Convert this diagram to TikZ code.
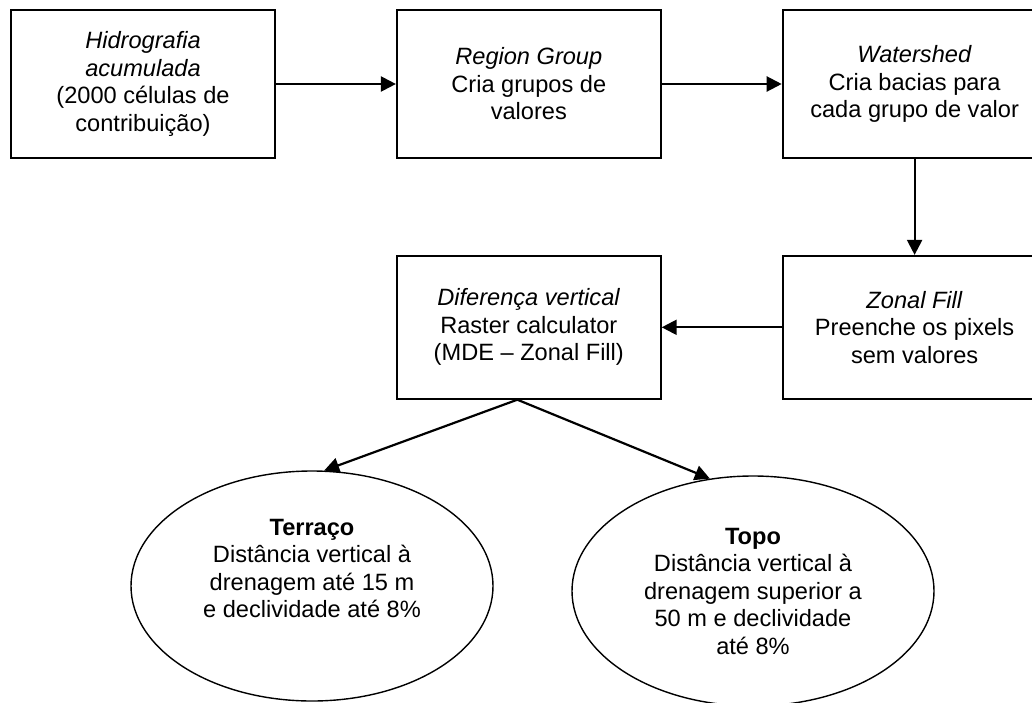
\documentclass[tikz,border=0pt]{standalone}
\usepackage{fontspec}
\setmainfont{Liberation Sans}
\usetikzlibrary{arrows.meta,positioning,shapes.geometric}

\begin{document}
\begin{tikzpicture}[
    x=0.5pt, y=-0.5pt,
    node distance=60pt,
    box/.style={draw, line width=0.9pt, align=center, minimum width=132pt, minimum height=74pt, inner sep=3pt, font=\fontsize{11.8}{13.75}\selectfont},
    blob/.style={draw, ellipse, line width=0.7pt, align=center, minimum width=181pt, minimum height=115pt, inner sep=0pt, font=\fontsize{11.8}{13.75}\selectfont},
    arr/.style={-{Triangle[length=7.5pt, width=7.5pt]}, line width=1.1pt}
  ]
    \useasboundingbox (0,0) rectangle (1032,702);
    \node[box] (hidro) at (143,84) {\textit{Hidrografia}\\\textit{acumulada}\\(2000 células de\\contribuição)};
    \node[box, right=of hidro] (region) {\textit{Region Group}\\Cria grupos de\\valores};
    \node[box, right=of region] (water) {\textit{Watershed}\\Cria bacias para\\cada grupo de valor};
    \node[box, below=48pt of water, minimum height=71.5pt] (zonal) {\textit{Zonal Fill}\\Preenche os pixels\\sem valores};
    \node[box, left=of zonal, minimum height=71.5pt] (diff) {\textit{Diferença vertical}\\Raster calculator\\(MDE – Zonal Fill)};
    \node[blob, text depth=17.5pt] (terraco) at (312,586) {\textbf{Terraço}\\Distância vertical à\\drenagem até 15 m\\e declividade até 8\%};
    \node[blob] (topo) at (753,591) {\textbf{Topo}\\Distância vertical à\\drenagem superior a\\50 m e declividade\\até 8\%};
    \draw[arr] (hidro) -- (region);
    \draw[arr] (region) -- (water);
    \draw[arr] (water) -- (zonal);
    \draw[arr] (zonal) -- (diff);
    \draw[arr] (diff.-99.5) -- (terraco.84);
    \draw[arr] (diff.-99.5) -- (topo.111);
  \end{tikzpicture}
\end{document}
